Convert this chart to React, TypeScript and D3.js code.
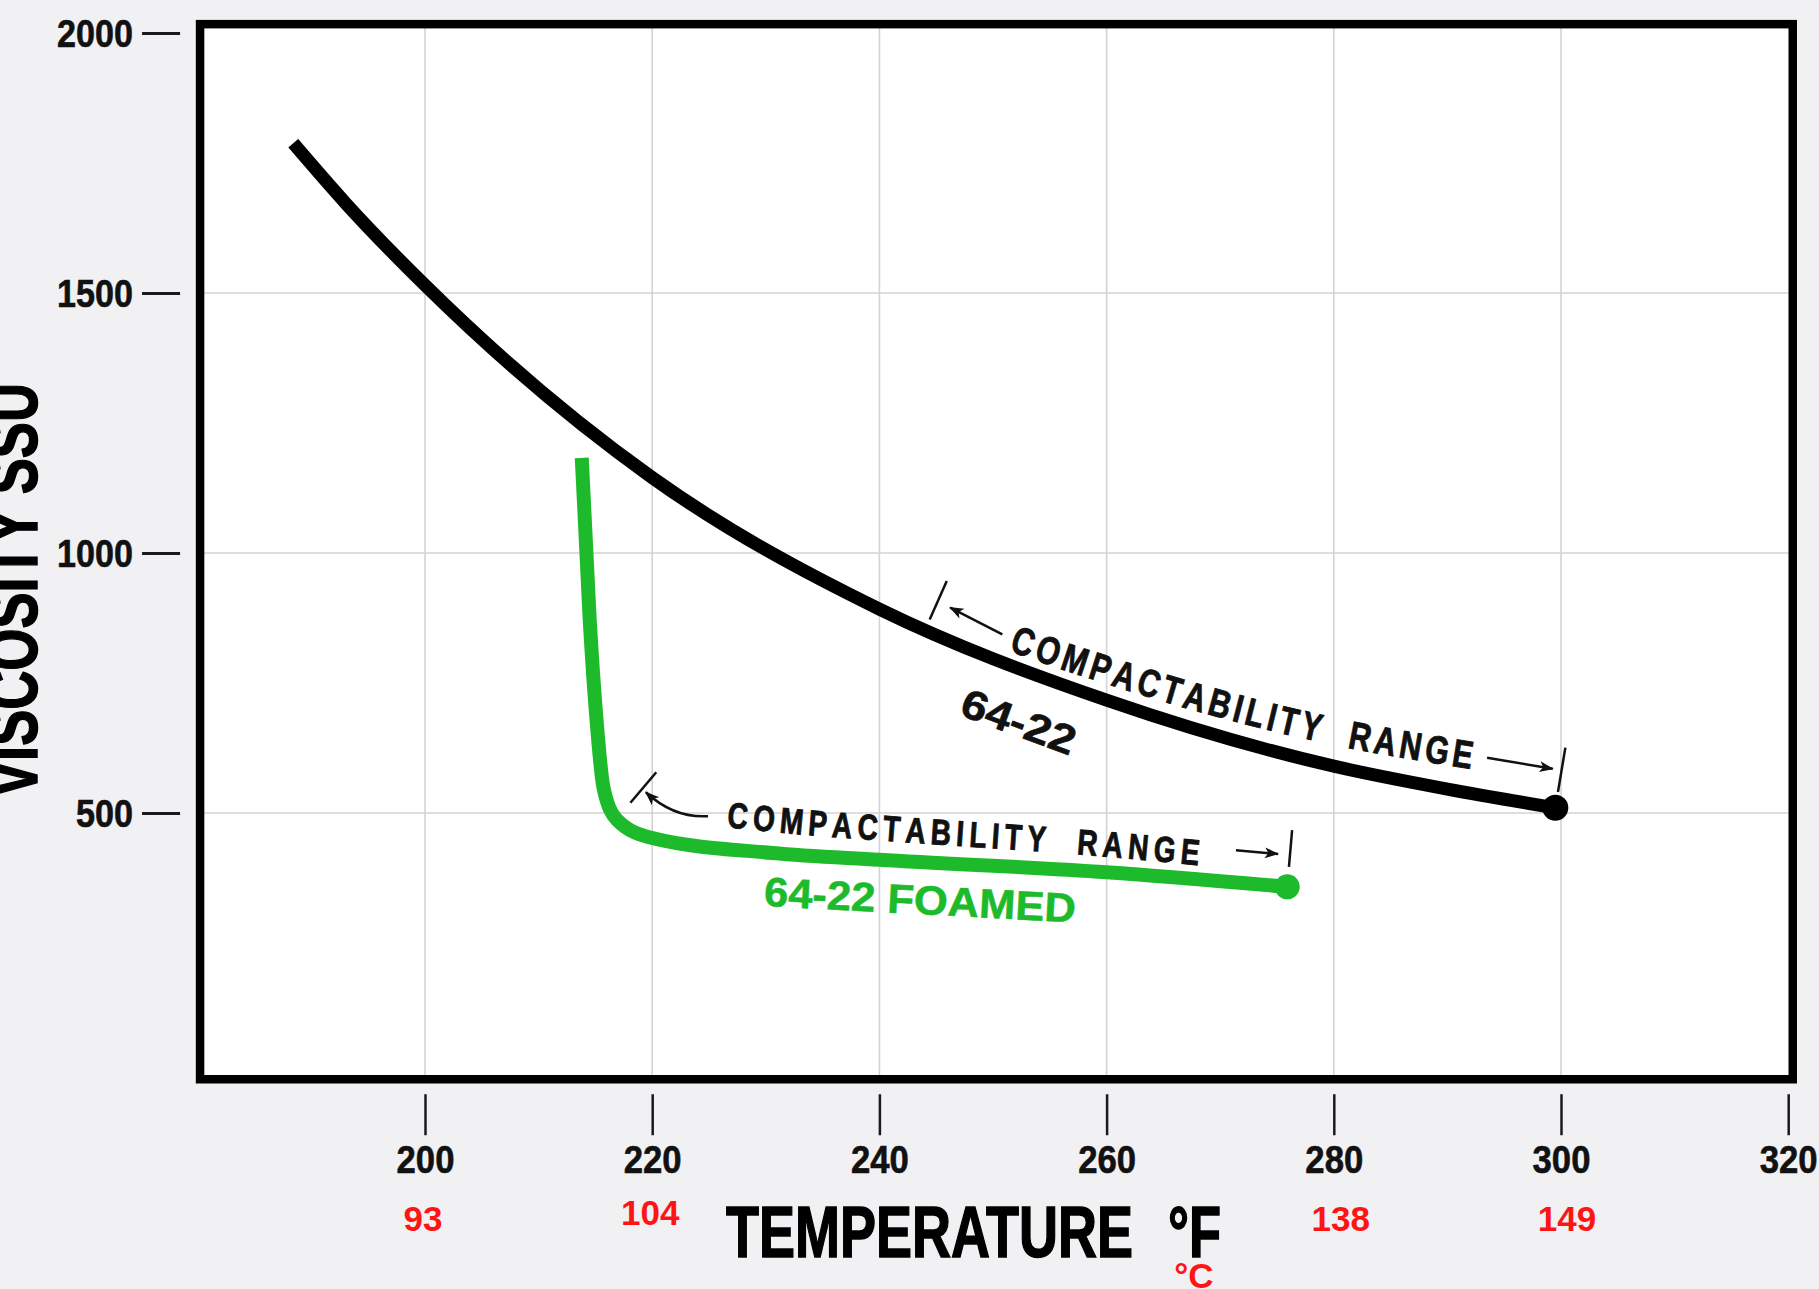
import React, { useRef, useEffect } from 'react';
import * as d3 from 'd3';

const W = 1819;
const H = 1289;

// 64-22 binder: temperature (°F) vs viscosity (SSU)
const binderTemp = [188.4, 193, 200, 220, 240, 260, 280, 290, 299.5];
const binderSsu = [1788, 1673, 1515, 1145, 892, 717, 590, 546, 510];

// 64-22 foamed
const foamTemp = [213.8, 214.5, 215.1, 215.7, 216.9, 220, 230.6, 240, 260, 275.9];
const foamSsu = [1183, 871, 679, 550, 487, 452, 423, 410, 386, 358];

// compactability ranges (°F)
const binderRange = [244, 299.6];
const foamRange = [217.3, 275.9];

const xTicks = [200, 220, 240, 260, 280, 300, 320];
const yTicks = [500, 1000, 1500, 2000];
const celsiusAt = [200, 220, 280, 300];
const celsiusLabels = ['93', '104', '138', '149'];

const COND = "'Liberation Sans Narrow', 'Arial Narrow', 'Liberation Sans', Arial, sans-serif";
const SANS = "'Liberation Sans', Arial, Helvetica, sans-serif";
const GREEN = '#1dbb2b';
const RED = '#ff1414';
const INK = '#111';

// walk along a drawn curve: point, tangent and "up" normal at a screen x
function curveFrame(node) {
    const total = node.getTotalLength();
    const lenAtX = (px) => {
        let lo = 0, hi = total;
        for (let i = 0; i < 40; i++) {
            const mid = (lo + hi) / 2;
            if (node.getPointAtLength(mid).x < px) lo = mid; else hi = mid;
        }
        return (lo + hi) / 2;
    };
    const at = (px) => {
        const l = lenAtX(px);
        const a = node.getPointAtLength(Math.max(0, l - 3));
        const b = node.getPointAtLength(Math.min(total, l + 3));
        const p = node.getPointAtLength(l);
        let tx = b.x - a.x, ty = b.y - a.y;
        const m = Math.hypot(tx, ty) || 1;
        tx /= m; ty /= m;
        return { p, tx, ty, nx: ty, ny: -tx, angle: Math.atan2(ty, tx) * 180 / Math.PI };
    };
    const off = (px, d, s = 0) => {
        const f = at(px);
        return [f.p.x + f.nx * d + f.tx * s, f.p.y + f.ny * d + f.ty * s];
    };
    return { at, off };
}

const App = () => {
    const ref = useRef(null);

    useEffect(() => {
        const svg = d3.select(ref.current);
        svg.selectAll('*').remove();

        const x = d3.scaleLinear().domain([200, 300]).range([425, 1561]);
        const y = d3.scaleLinear().domain([0, 2000]).range([1073, 33]);

        const defs = svg.append('defs');
        defs.append('marker')
            .attr('id', 'ah')
            .attr('viewBox', '0 -5 12 10')
            .attr('refX', 11)
            .attr('refY', 0)
            .attr('markerWidth', 16)
            .attr('markerHeight', 12)
            .attr('markerUnits', 'userSpaceOnUse')
            .attr('orient', 'auto')
            .append('path')
            .attr('d', 'M0,-4.5L12,0L0,4.5L3,0Z')
            .attr('fill', INK);

        svg.append('rect').attr('width', W).attr('height', H).attr('fill', '#f1f1f4');

        const fx0 = x(180.2), fx1 = x(320.4), fy0 = y(2017), fy1 = y(-12);
        svg.append('rect')
            .attr('x', fx0).attr('y', fy0)
            .attr('width', fx1 - fx0).attr('height', fy1 - fy0)
            .attr('fill', '#fff');

        // grid
        const grid = svg.append('g').attr('stroke', '#d3d3d3').attr('stroke-width', 1.6);
        grid.selectAll('line.gv')
            .data(xTicks.filter(d => d < 320))
            .join('line')
            .attr('class', 'gv')
            .attr('x1', d => x(d)).attr('x2', d => x(d))
            .attr('y1', fy0).attr('y2', fy1);
        grid.selectAll('line.gh')
            .data(yTicks.filter(d => d < 2000))
            .join('line')
            .attr('class', 'gh')
            .attr('x1', fx0).attr('x2', fx1)
            .attr('y1', d => y(d)).attr('y2', d => y(d));

        svg.append('rect')
            .attr('x', fx0).attr('y', fy0)
            .attr('width', fx1 - fx0).attr('height', fy1 - fy0)
            .attr('fill', 'none')
            .attr('stroke', '#000')
            .attr('stroke-width', 8.5);

        // axes
        const yAxis = svg.append('g')
            .attr('transform', `translate(${fx0 - 20},0)`)
            .call(d3.axisLeft(y).tickValues(yTicks).tickSize(38).tickPadding(9).tickFormat(d3.format('d')));
        yAxis.select('.domain').remove();
        yAxis.selectAll('line').attr('stroke', '#1a1a1a').attr('stroke-width', 3);
        yAxis.selectAll('text')
            .attr('font-family', SANS)
            .attr('font-weight', 700)
            .attr('font-size', 38)
            .attr('fill', INK)
            .attr('stroke', INK)
            .attr('stroke-width', 0.6)
            .attr('dy', '0.36em')
            .attr('textLength', d => String(d).length * 19)
            .attr('lengthAdjust', 'spacingAndGlyphs');

        const xAxis = svg.append('g')
            .attr('transform', `translate(0,${fy1 + 15})`)
            .call(d3.axisBottom(x).tickValues(xTicks).tickSize(41).tickPadding(10.5).tickFormat(d3.format('d')));
        xAxis.select('.domain').remove();
        xAxis.selectAll('line').attr('stroke', '#1a1a1a').attr('stroke-width', 2.5);
        xAxis.selectAll('text')
            .attr('font-family', SANS)
            .attr('font-weight', 700)
            .attr('font-size', 38)
            .attr('fill', INK)
            .attr('stroke', INK)
            .attr('stroke-width', 0.6)
            .attr('textLength', d => String(d).length * 19.3)
            .attr('lengthAdjust', 'spacingAndGlyphs');

        // celsius equivalents
        const cNudge = [[-2, 0], [-2, -6], [7, 0], [6, 0]];
        svg.append('g')
            .selectAll('text')
            .data(celsiusAt)
            .join('text')
            .attr('x', (d, i) => x(d) + cNudge[i][0])
            .attr('y', (d, i) => fy1 + 152 + cNudge[i][1])
            .attr('text-anchor', 'middle')
            .attr('font-family', SANS)
            .attr('font-weight', 700)
            .attr('font-size', 35)
            .attr('fill', RED)
            .text((d, i) => celsiusLabels[i]);

        // axis titles
        svg.append('text')
            .attr('x', 726).attr('y', 1257)
            .attr('font-family', COND).attr('font-weight', 700).attr('font-size', 72)
            .attr('fill', '#000').attr('stroke', '#000').attr('stroke-width', 1.5)
            .attr('textLength', 407).attr('lengthAdjust', 'spacingAndGlyphs')
            .text('TEMPERATURE');
        svg.append('text')
            .attr('x', 1168).attr('y', 1257)
            .attr('font-family', COND).attr('font-weight', 700).attr('font-size', 72)
            .attr('fill', '#000').attr('stroke', '#000').attr('stroke-width', 1.5)
            .attr('textLength', 53).attr('lengthAdjust', 'spacingAndGlyphs')
            .text('°F');
        svg.append('text')
            .attr('x', 1194).attr('y', 1288)
            .attr('text-anchor', 'middle')
            .attr('font-family', SANS).attr('font-weight', 700).attr('font-size', 35)
            .attr('fill', RED)
            .text('°C');
        svg.append('text')
            .attr('transform', 'translate(37,590) rotate(-90)')
            .attr('text-anchor', 'middle')
            .attr('font-family', COND).attr('font-weight', 700).attr('font-size', 72)
            .attr('fill', '#000').attr('stroke', '#000').attr('stroke-width', 1.5)
            .attr('textLength', 414).attr('lengthAdjust', 'spacingAndGlyphs')
            .text('VISCOSITY SSU');

        // curves
        const line = d3.line().x(d => x(d[0])).y(d => y(d[1])).curve(d3.curveMonotoneX);
        const binderPts = binderTemp.map((t, i) => [t, binderSsu[i]]);
        const foamPts = foamTemp.map((t, i) => [t, foamSsu[i]]);

        const bPath = svg.append('path')
            .datum(binderPts)
            .attr('d', line)
            .attr('fill', 'none')
            .attr('stroke', '#000')
            .attr('stroke-width', 13);
        const gPath = svg.append('path')
            .datum(foamPts)
            .attr('d', line)
            .attr('fill', 'none')
            .attr('stroke', GREEN)
            .attr('stroke-width', 14);

        const bEnd = binderPts[binderPts.length - 1];
        const gEnd = foamPts[foamPts.length - 1];
        svg.append('circle').attr('cx', x(bEnd[0])).attr('cy', y(bEnd[1])).attr('r', 13).attr('fill', '#000');
        svg.append('circle').attr('cx', x(gEnd[0])).attr('cy', y(gEnd[1])).attr('r', 12.5).attr('fill', GREEN);

        const bf = curveFrame(bPath.node());
        const gf = curveFrame(gPath.node());

        const seg = (a, b, color, w, arrow) => {
            const l = svg.append('line')
                .attr('x1', a[0]).attr('y1', a[1]).attr('x2', b[0]).attr('y2', b[1])
                .attr('stroke', color).attr('stroke-width', w);
            if (arrow) l.attr('marker-end', 'url(#ah)');
        };

        // condensed letters spread along a baseline that follows the curve
        const textOnCurve = (frame, id, a, b, d0, d1, size, color, label, squeeze) => {
            const xs = d3.range(a, b, 4).concat([b]);
            const pts = xs.map(px => frame.off(px, d0 + (d1 - d0) * (px - a) / (b - a)));
            const node = defs.append('path').attr('id', id).attr('d', d3.line().curve(d3.curveBasis)(pts)).node();
            const len = node.getTotalLength();

            const probe = svg.append('text')
                .attr('font-family', SANS).attr('font-weight', 700).attr('font-size', size);
            const chars = Array.from(label);
            const widths = chars.map(ch => {
                probe.text(ch === ' ' ? '\u00A0' : ch);
                return probe.node().getComputedTextLength() * squeeze;
            });
            probe.remove();
            const gap = (len - d3.sum(widths)) / (chars.length - 1);

            const g = svg.append('g')
                .attr('font-family', SANS).attr('font-weight', 700).attr('font-size', size)
                .attr('fill', color).attr('stroke', color).attr('stroke-width', 0.9);
            let s = 0;
            chars.forEach((ch, i) => {
                const mid = s + widths[i] / 2;
                const p = node.getPointAtLength(mid);
                const pa = node.getPointAtLength(Math.max(0, mid - 3));
                const pb = node.getPointAtLength(Math.min(len, mid + 3));
                const ang = Math.atan2(pb.y - pa.y, pb.x - pa.x) * 180 / Math.PI;
                if (ch !== ' ') {
                    g.append('text')
                        .attr('transform', `translate(${p.x},${p.y}) rotate(${ang}) scale(${squeeze},1)`)
                        .attr('text-anchor', 'middle')
                        .text(ch);
                }
                s += widths[i] + gap;
            });
        };

        // 64-22 compactability range
        const b0 = x(binderRange[0]), b1 = x(binderRange[1]);
        seg(bf.off(b0, 12), bf.off(b0, 54), INK, 2.5, false);
        seg(bf.off(b0 + 68, 26), bf.off(b0 + 13, 31), INK, 2.5, true);
        textOnCurve(bf, 'bRange', b0 + 79, b1 - 90, 13, 24, 39, INK, 'COMPACTABILITY  RANGE', 0.78);
        seg(bf.off(b1 - 76, 38), bf.off(b1 - 10, 38), INK, 2.5, true);
        seg(bf.off(b1, 16), bf.off(b1, 61), INK, 2.5, false);

        const bl = bf.at(1036);
        const blp = bf.off(1036, -64);
        svg.append('text')
            .attr('transform', `translate(${blp[0]},${blp[1]}) rotate(${bl.angle})`)
            .attr('text-anchor', 'middle')
            .attr('font-family', COND).attr('font-weight', 700).attr('font-size', 41)
            .attr('fill', INK).attr('stroke', INK).attr('stroke-width', 0.6)
            .attr('textLength', 119).attr('lengthAdjust', 'spacingAndGlyphs')
            .text('64-22');

        // 64-22 foamed compactability range
        const g0 = x(foamRange[0]), g1 = x(foamRange[1]);
        seg(gf.off(g0, 22, -7), gf.off(g0, 62, -7), INK, 2.5, false);
        const S = gf.off(g0 + 83, 31);
        const E = gf.off(g0, 40, -2);
        const C = [E[0] + 0.45 * (S[0] - E[0]), S[1] + 2];
        svg.append('path')
            .attr('d', `M${S[0]},${S[1]}Q${C[0]},${C[1]} ${E[0]},${E[1]}`)
            .attr('fill', 'none').attr('stroke', INK).attr('stroke-width', 2.5)
            .attr('marker-end', 'url(#ah)');
        textOnCurve(gf, 'gRange', g0 + 103, g1 - 90, 22, 14, 36, INK, 'COMPACTABILITY  RANGE', 0.78);
        seg(gf.off(g1 - 54, 32), gf.off(g1 - 12, 32), INK, 2.5, true);
        seg(gf.off(g1, 20), gf.off(g1, 57), INK, 2.5, false);

        const gl = gf.at(922);
        const glp = gf.off(922, -52);
        svg.append('text')
            .attr('transform', `translate(${glp[0]},${glp[1]}) rotate(${gl.angle})`)
            .attr('text-anchor', 'middle')
            .attr('font-family', COND).attr('font-weight', 700).attr('font-size', 41)
            .attr('fill', GREEN).attr('stroke', GREEN).attr('stroke-width', 0.6)
            .attr('textLength', 312).attr('lengthAdjust', 'spacingAndGlyphs')
            .text('64-22 FOAMED');
    }, []);

    return (
        <svg
            ref={ref}
            width={W}
            height={H}
            style={{ position: 'absolute', left: 0, top: 0, display: 'block' }}
        ></svg>
    );
};

export default App;
